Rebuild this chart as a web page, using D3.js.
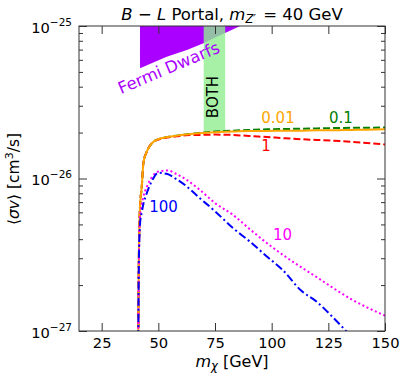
<!DOCTYPE html>
<html>
<head>
<meta charset="utf-8">
<script src="https://cdn.jsdelivr.net/npm/d3@7"></script>
<style>
  body { margin: 0; background: #fff; }
  text { font-family: "DejaVu Sans", sans-serif; }
</style>
</head>
<body>
<svg id="chart" width="407" height="381"></svg>
<script>
// masses (GeV) shared by all curves
const mass = [41.15, 41.4, 41.9, 42.7, 43.4, 44.9, 47.1, 50, 54, 58, 62, 68, 75, 83, 90, 98, 105, 113, 120, 127, 135, 142, 150];

// <sigma v> for each coupling ratio
const sv001 = [0.9e-27, 2.9e-27, 6.5e-27, 8.84e-27, 1.26e-26, 1.50e-26, 1.70e-26, 1.81e-26, 1.87e-26, 1.91e-26, 1.94e-26, 1.98e-26, 2.01e-26, 2.03e-26, 2.05e-26, 2.05e-26, 2.06e-26, 2.06e-26, 2.07e-26, 2.07e-26, 2.08e-26, 2.09e-26, 2.10e-26];
const sv01  = [0.9e-27, 2.9e-27, 6.5e-27, 8.84e-27, 1.26e-26, 1.50e-26, 1.70e-26, 1.81e-26, 1.87e-26, 1.91e-26, 1.94e-26, 1.99e-26, 2.03e-26, 2.06e-26, 2.08e-26, 2.10e-26, 2.11e-26, 2.12e-26, 2.13e-26, 2.14e-26, 2.15e-26, 2.15e-26, 2.16e-26];
const sv1   = [0.9e-27, 2.9e-27, 6.5e-27, 8.84e-27, 1.26e-26, 1.50e-26, 1.70e-26, 1.80e-26, 1.86e-26, 1.89e-26, 1.92e-26, 1.93e-26, 1.94e-26, 1.93e-26, 1.90e-26, 1.87e-26, 1.84e-26, 1.81e-26, 1.79e-26, 1.77e-26, 1.74e-26, 1.71e-26, 1.67e-26];
const sv10  = [0.9e-27, 2.8e-27, 5.5e-27, 6.8e-27, 7.6e-27, 8.8e-27, 1.02e-26, 1.11e-26, 1.13e-26, 1.07e-26, 9.9e-27, 8.5e-27, 6.9e-27, 5.76e-27, 4.7e-27, 3.76e-27, 3.15e-27, 2.62e-27, 2.25e-27, 1.92e-27, 1.62e-27, 1.43e-27, 1.26e-27];
const sv100 = [0.9e-27, 2.7e-27, 5.0e-27, 6.0e-27, 6.8e-27, 8.0e-27, 9.6e-27, 1.09e-26, 1.07e-26, 9.9e-27, 9.0e-27, 7.5e-27, 6.1e-27, 4.72e-27, 3.9e-27, 3.07e-27, 2.5e-27, 1.84e-27, 1.55e-27, 1.23e-27, 0.93e-27, 0.75e-27, 0.6e-27];

const seriesNames = ["0.1", "1", "0.01", "10", "100"];

// Fermi dwarfs limit (lower edge of excluded region)
const fermiMass = [41.9, 53.7, 62.6, 69.9, 75.8, 85.4, 92];
const fermiLimit = [5.28e-26, 6.29e-26, 6.96e-26, 7.7e-26, 8.5e-26, 9.9e-26, 1.08e-25];

// "BOTH" band
const bothMass = [70, 79.5];
const bothRange = [2.05e-26, 1e-25];

const xTicks = [25, 50, 75, 100, 125, 150];
const yMajor = [1e-27, 1e-26, 1e-25];
const yMinor = [2, 3, 4, 5, 6, 7, 8, 9].flatMap(k => [k * 1e-27, k * 1e-26]);
const yLabels = ["−27", "−26", "−25"];

const svg = d3.select("#chart");
const pad = {left: 79, right: 385, top: 26, bottom: 331};

const x = d3.scaleLinear().domain([15, 150]).range([pad.left, pad.right]);
const y = d3.scaleLog().domain([1e-27, 1e-25]).range([pad.bottom, pad.top]);

svg.append("rect").attr("width", 407).attr("height", 381).attr("fill", "#fff");

svg.append("clipPath").attr("id", "clip")
  .append("rect").attr("x", pad.left).attr("y", pad.top)
  .attr("width", pad.right - pad.left).attr("height", pad.bottom - pad.top);

const plot = svg.append("g").attr("clip-path", "url(#clip)");

// Fermi region
const fermiArea = d3.area()
  .x(d => x(d[0]))
  .y0(d => y(d[1]))
  .y1(() => y(3e-25));
plot.append("path")
  .datum(d3.zip(fermiMass, fermiLimit))
  .attr("d", fermiArea)
  .attr("fill", "#aa00ff");

// BOTH band
plot.append("rect")
  .attr("x", x(bothMass[0]))
  .attr("width", x(bothMass[1]) - x(bothMass[0]))
  .attr("y", y(bothRange[1]))
  .attr("height", y(bothRange[0]) - y(bothRange[1]))
  .attr("fill", "#90ee90")
  .attr("fill-opacity", 0.8);

const line = d3.line()
  .x(d => x(d[0]))
  .y(d => y(d[1]))
  .curve(d3.curveMonotoneX);

const styles = {
  "0.1":  {vals: sv01,  color: "green",   dash: "7,3"},
  "1":    {vals: sv1,   color: "red",     dash: "7,3"},
  "0.01": {vals: sv001, color: "orange",  dash: null},
  "10":   {vals: sv10,  color: "#ff00ff", dash: "2,2.6"},
  "100":  {vals: sv100, color: "blue",    dash: "8,3,2,3"}
};

seriesNames.forEach(function(name) {
  let s = styles[name];
  plot.append("path")
    .datum(d3.zip(mass, s.vals))
    .attr("d", line)
    .attr("fill", "none")
    .attr("stroke", s.color)
    .attr("stroke-width", 2)
    .attr("stroke-dasharray", s.dash);
});

// axes: ticks inward on all four sides
function styleAxis(g) {
  g.select(".domain").remove();
  g.selectAll(".tick line").attr("stroke", "#333");
  g.selectAll(".tick text").attr("font-size", 14.7).attr("fill", "#000")
    .style("font-family", "DejaVu Sans");
}

svg.append("g").attr("transform", `translate(0,${pad.bottom})`)
  .call(d3.axisBottom(x).tickValues(xTicks).tickSize(-8).tickPadding(7))
  .call(styleAxis);
svg.append("g").attr("transform", `translate(0,${pad.top})`)
  .call(d3.axisTop(x).tickValues(xTicks).tickSize(-8).tickFormat(""))
  .call(styleAxis);

[[pad.left, d3.axisLeft], [pad.right, d3.axisRight]].forEach(function(a) {
  svg.append("g").attr("transform", `translate(${a[0]},0)`)
    .call(a[1](y).tickValues(yMajor).tickSize(-8).tickFormat(""))
    .call(styleAxis);
  svg.append("g").attr("transform", `translate(${a[0]},0)`)
    .call(a[1](y).tickValues(yMinor).tickSize(-4).tickFormat(""))
    .call(styleAxis);
});

svg.append("rect")
  .attr("x", pad.left).attr("y", pad.top)
  .attr("width", pad.right - pad.left).attr("height", pad.bottom - pad.top)
  .attr("fill", "none").attr("stroke", "#333").attr("stroke-width", 1);

// y tick labels with exponents
yMajor.forEach(function(v, i) {
  let t = svg.append("text")
    .attr("x", pad.left - 7).attr("y", y(v) + 6.5)
    .attr("text-anchor", "end").attr("font-size", 14.7);
  t.append("tspan").text("10");
  t.append("tspan").attr("dy", -7).attr("font-size", 10.5).text(yLabels[i]);
});

// title
const title = svg.append("text")
  .attr("x", 232).attr("y", 20).attr("text-anchor", "middle").attr("font-size", 16.5);
title.append("tspan").attr("font-style", "italic").text("B");
title.append("tspan").text(" − ");
title.append("tspan").attr("font-style", "italic").text("L");
title.append("tspan").text(" Portal, ");
title.append("tspan").attr("font-style", "italic").text("m");
title.append("tspan").attr("font-style", "italic").attr("font-size", 11.5).attr("dy", 3).text("Z′");
title.append("tspan").attr("dy", -3).attr("dx", 2).text(" = 40 GeV");

// axis labels
const xl = svg.append("text")
  .attr("x", 232).attr("y", 367).attr("text-anchor", "middle").attr("font-size", 16);
xl.append("tspan").attr("font-style", "italic").text("m");
xl.append("tspan").attr("font-style", "italic").attr("font-size", 11.5).attr("dy", 3).text("χ");
xl.append("tspan").attr("dy", -3).text(" [GeV]");

const yl = svg.append("text")
  .attr("transform", "translate(19,179) rotate(-90)")
  .attr("text-anchor", "middle").attr("font-size", 15.5);
yl.append("tspan").text("⟨");
yl.append("tspan").attr("font-style", "italic").text("σv");
yl.append("tspan").text("⟩ [cm");
yl.append("tspan").attr("font-size", 11).attr("dy", -6).text("3");
yl.append("tspan").attr("dy", 6).text("/s]");

// in-plot labels
const labels = [
  {t: "0.01", c: "orange", x: 278, y: 122.5},
  {t: "0.1", c: "green", x: 341, y: 122.5},
  {t: "1", c: "red", x: 266, y: 150.5},
  {t: "100", c: "blue", x: 163.5, y: 211.5},
  {t: "10", c: "#ff00ff", x: 282.5, y: 239.5}
];
svg.selectAll("text.lab").data(labels).enter().append("text")
  .attr("class", "lab")
  .attr("x", d => d.x).attr("y", d => d.y)
  .attr("text-anchor", "middle").attr("font-size", 15)
  .attr("fill", d => d.c)
  .text(d => d.t);

svg.append("text")
  .attr("transform", "translate(218,97) rotate(-90)")
  .attr("text-anchor", "middle").attr("font-size", 15)
  .text("BOTH");

svg.append("text")
  .attr("transform", "translate(171,73) rotate(-23)")
  .attr("text-anchor", "middle").attr("font-size", 16.5)
  .attr("fill", "#aa00ff")
  .text("Fermi Dwarfs");
</script>
</body>
</html>
